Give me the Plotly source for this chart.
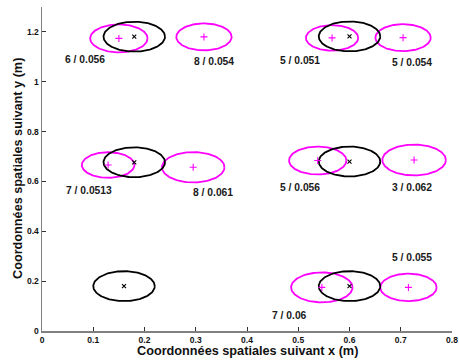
import numpy as np
import plotly.graph_objects as go

# Reference (black) circles: centres and radius
ref_x = [0.18, 0.60, 0.18, 0.60, 0.16, 0.60]
ref_y = [1.181, 1.182, 0.677, 0.680, 0.180, 0.180]
ref_r = [0.06, 0.06, 0.06, 0.06, 0.06, 0.06]

# Estimated (magenta) circles: centres, radius
est_x = [0.150, 0.316, 0.566, 0.7045, 0.129, 0.295, 0.538, 0.726, 0.546, 0.715]
est_y = [1.174, 1.180, 1.176, 1.177, 0.666, 0.657, 0.684, 0.686, 0.175, 0.175]
est_r = [0.056, 0.054, 0.051, 0.054, 0.0513, 0.061, 0.056, 0.062, 0.06, 0.055]

# Labels "n / radius"
label_text = ["6 / 0.056", "8 / 0.054", "5 / 0.051", "5 / 0.054", "7 / 0.0513",
              "8 / 0.061", "5 / 0.056", "3 / 0.062", "7 / 0.06", "5 / 0.055"]
label_x = [0.083, 0.336, 0.503, 0.721, 0.092, 0.333, 0.503, 0.722, 0.483, 0.7215]
label_y = [1.091, 1.082, 1.084, 1.079, 0.562, 0.555, 0.577, 0.577, 0.062, 0.2935]

x_ticks = [0, 0.1, 0.2, 0.3, 0.4, 0.5, 0.6, 0.7, 0.8]
x_tick_labels = ["0", "0.1", "0.2", "0.3", "0.4", "0.5", "0.6", "0.7", "0.8"]
y_ticks = [0, 0.2, 0.4, 0.6, 0.8, 1.0, 1.2]
y_tick_labels = ["0", "0.2", "0.4", "0.6", "0.8", "1", "1.2"]

FONT = "Liberation Sans, Arial, sans-serif"
t = np.linspace(0, 2 * np.pi, 181)

fig = go.Figure()

def add_circle(cx, cy, r, color):
    fig.add_trace(go.Scatter(x=cx + r * np.cos(t), y=cy + r * np.sin(t), mode="lines",
                             line=dict(color=color, width=1.8), hoverinfo="skip", showlegend=False))

for cx, cy, r in zip(est_x, est_y, est_r):
    add_circle(cx, cy, r, "#ff00ff")
for cx, cy, r in zip(ref_x, ref_y, ref_r):
    add_circle(cx, cy, r, "#000000")

fig.add_trace(go.Scatter(x=ref_x, y=ref_y, mode="markers", showlegend=False,
                         marker=dict(symbol="x-thin", size=4, line=dict(color="black", width=1.1))))
fig.add_trace(go.Scatter(x=est_x, y=est_y, mode="markers", showlegend=False,
                         marker=dict(symbol="cross-thin", size=5, line=dict(color="#ff00ff", width=1.1))))

for tx, ty, s in zip(label_x, label_y, label_text):
    fig.add_annotation(x=tx, y=ty, text="<b>%s</b>" % s, showarrow=False,
                       font=dict(family=FONT, size=10.3, color="#1a1a1a"))

fig.add_annotation(xref="paper", yref="paper", x=0.5, y=0, yshift=-20, yanchor="middle",
                   text="<b>Coordonnées spatiales suivant x (m)</b>", showarrow=False,
                   font=dict(family=FONT, size=12.7, color="#111111"))
fig.add_annotation(xref="paper", yref="paper", x=0, xshift=-24, y=0.5, xanchor="center",
                   text="<b>Coordonnées spatiales suivant y (m)</b>", showarrow=False, textangle=-90,
                   font=dict(family=FONT, size=12.7, color="#111111"))

axis_common = dict(showgrid=False, zeroline=False, showline=True, linecolor="#808080", linewidth=1.5,
                   ticks="inside", ticklen=4, tickcolor="#333333", tickwidth=1, automargin=False,
                   tickfont=dict(family=FONT, size=8.5, color="#111111"), mirror=False)

fig.update_xaxes(range=[0, 0.8], tickvals=x_ticks,
                 ticktext=["<b>%s</b>" % s for s in x_tick_labels], **axis_common)
fig.update_yaxes(range=[0, 1.3], tickvals=y_ticks,
                 ticktext=["<b>%s</b>" % s for s in y_tick_labels], **axis_common)

fig.update_layout(width=459, height=361, margin=dict(l=42, r=7, t=7, b=30, autoexpand=False),
                  plot_bgcolor="white", paper_bgcolor="white", showlegend=False)

fig.write_html("out.html", config={"displayModeBar": False, "staticPlot": True},
               post_script="document.body.style.margin='0';document.body.style.overflow='hidden';")
